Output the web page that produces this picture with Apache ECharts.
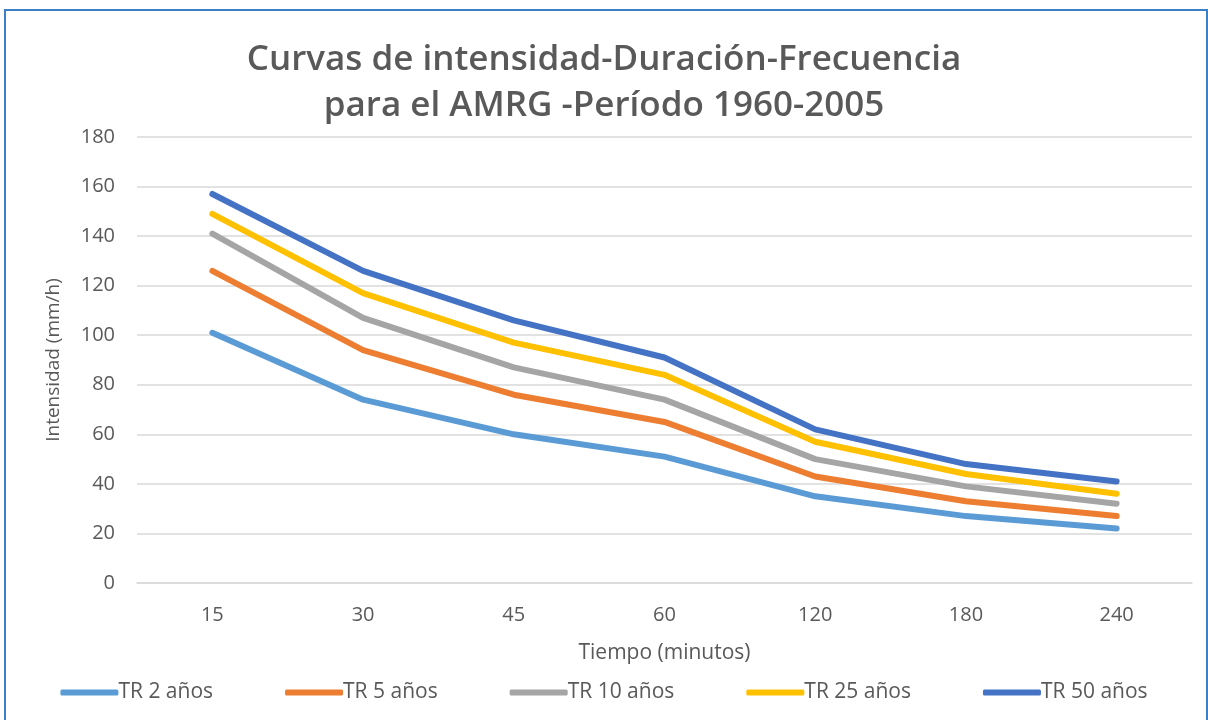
<!DOCTYPE html>
<html lang="es">
<head>
  <meta charset="UTF-8">
  <title>Curvas IDF</title>
  <script src="https://cdn.jsdelivr.net/npm/echarts@6/dist/echarts.min.js"></script>
  <style>
    html, body { margin: 0; padding: 0; background: #fff; }
    #main { width: 1208px; height: 720px; }
    #frame {
      position: absolute; left: 4px; top: 9px; width: 1200px; height: 720px;
      border: 2px solid #3b7fc6; border-bottom: none; pointer-events: none;
    }
  </style>
</head>
<body>

<div id="main"></div>
<div id="frame"></div>

<script>
  // duraciones (minutos)
  var tiempos = ['15', '30', '45', '60', '120', '180', '240'];
  var yTicks = [0, 20, 40, 60, 80, 100, 120, 140, 160, 180];

  // intensidades (mm/h)
  var tr2 = [101, 74, 60, 51, 35, 27, 22];
  var tr5 = [126, 94, 76, 65, 43, 33, 27];
  var tr10 = [141, 107, 87, 74, 50, 39, 32];
  var tr25 = [149, 117, 97, 84, 57, 44, 36];
  var tr50 = [157, 126, 106, 91, 62, 48, 41];

  var nombres = ['TR 2 años', 'TR 5 años', 'TR 10 años', 'TR 25 años', 'TR 50 años'];
  var colores = ['#5b9bd5', '#ed7d31', '#a5a5a5', '#ffc000', '#4472c4'];
  var datos = [tr2, tr5, tr10, tr25, tr50];

  var fuente = 'Open Sans';
  var gris = '#595959';

  var series = [];
  for (let i = 0; i < datos.length; i++) {
    series.push({
      name: nombres[i],
      type: 'line',
      data: datos[i],
      symbol: 'none',
      lineStyle: { width: 6, color: colores[i], cap: 'round', join: 'round' },
      itemStyle: { color: colores[i] }
    })
  }

  echarts.init($('#main')).setOption({
    animation: false,
    textStyle: { fontFamily: fuente },
    title: {
      text: 'Curvas de intensidad-Duración-Frecuencia\npara el AMRG -Período 1960-2005',
      left: 'center',
      top: 32,
      textStyle: {
        fontFamily: fuente,
        fontSize: 35,
        fontWeight: 600,
        color: gris,
        lineHeight: 46
      }
    },
    legend: {
      bottom: 12,
      left: 'center',
      itemWidth: 58,
      itemHeight: 6,
      itemGap: 72,
      icon: 'roundRect',
      textStyle: { fontSize: 21, color: gris, fontFamily: fuente, padding: [0, 0, 0, -5] },
      data: nombres
    },
    grid: {
      left: 137,
      right: 16,
      top: 137,
      bottom: 137
    },
    xAxis: {
      type: 'category',
      data: tiempos,
      boundaryGap: true,
      name: 'Tiempo (minutos)',
      nameLocation: 'middle',
      nameGap: 60,
      nameTextStyle: { fontSize: 21, color: gris, fontFamily: fuente },
      axisLine: { lineStyle: { color: '#d9d9d9', width: 1.5 } },
      axisTick: { show: false },
      axisLabel: { fontSize: 20, color: gris, margin: 22 }
    },
    yAxis: {
      type: 'value',
      min: yTicks[0],
      max: yTicks[yTicks.length - 1],
      interval: 20,
      name: 'Intensidad (mm/h)',
      nameLocation: 'middle',
      nameGap: 74,
      nameRotate: 90,
      nameTextStyle: { fontSize: 19, color: gris, fontFamily: fuente },
      axisLine: { show: false },
      axisTick: { show: false },
      axisLabel: { fontSize: 20, color: gris, margin: 22 },
      splitLine: { lineStyle: { color: '#d9d9d9', width: 1.5 } }
    },
    series: series
  });

  function $(dom) {
    return document.querySelector(dom)
  }
</script>
</body>
</html>
